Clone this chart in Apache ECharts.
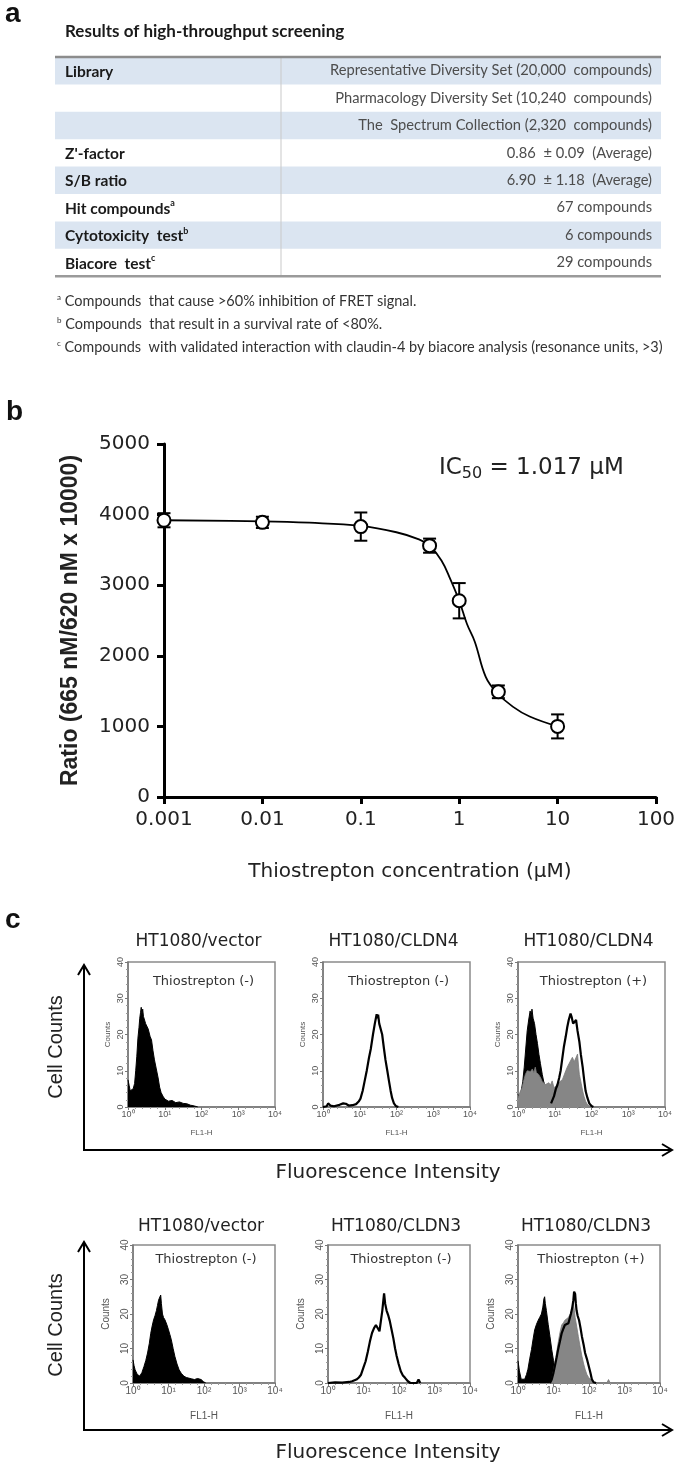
<!DOCTYPE html>
<html><head><meta charset="utf-8">
<script src="https://cdn.jsdelivr.net/npm/echarts@6/dist/echarts.min.js"></script>
<style>html,body{margin:0;padding:0;background:#fff}#c{width:685px;height:1469px}</style>
</head><body><div id="c"></div>
<script>
// ---------- Panel a : table ----------
const tableTitle = 'Results of high-throughput screening';
const tableLabels = ['Library', '', '', "Z'-factor", 'S/B ratio', 'Hit compounds', 'Cytotoxicity  test', 'Biacore  test'];
const tableLabelSup = ['', '', '', '', '', 'a', 'b', 'c'];
const tableValues = [
  'Representative Diversity Set (20,000  compounds)',
  'Pharmacology Diversity Set (10,240  compounds)',
  'The  Spectrum Collection (2,320  compounds)',
  '0.86  \u00b1 0.09  (Average)',
  '6.90  \u00b1 1.18  (Average)',
  '67 compounds',
  '6 compounds',
  '29 compounds'
];
const footnoteMarks = ['a', 'b', 'c'];
const footnotes = [
  'Compounds  that cause >60% inhibition of FRET signal.',
  'Compounds  that result in a survival rate of <80%.',
  'Compounds  with validated interaction with claudin-4 by biacore analysis (resonance units, >3)'
];

// ---------- Panel b : dose response ----------
const concentrations = [0.001, 0.01, 0.1, 0.5, 1, 2.5, 10];
const ratioMeans = [3920, 3890, 3830, 3560, 2780, 1490, 1000];
const ratioErrors = [100, 80, 200, 100, 250, 90, 170];
const fitConc = [0.001, 0.01, 0.03, 0.1, 0.23, 0.39, 0.5, 0.66, 0.81, 1.0, 1.2, 1.44, 1.86, 2.4, 3.5, 5.2, 10];
const fitRatio = [3920, 3905, 3885, 3840, 3750, 3650, 3560, 3350, 3090, 2780, 2450, 2200, 1700, 1480, 1280, 1140, 1000];
const xTickLabels = ['0.001', '0.01', '0.1', '1', '10', '100'];
const ic50Parts = ['IC', '50', ' = 1.017 \u00b5M'];

// ---------- Panel c : flow cytometry ----------
const panelTitles = ['HT1080/vector', 'HT1080/CLDN4', 'HT1080/CLDN4', 'HT1080/vector', 'HT1080/CLDN3', 'HT1080/CLDN3'];
const treatLabels = ['Thiostrepton (-)', 'Thiostrepton (-)', 'Thiostrepton (+)', 'Thiostrepton (-)', 'Thiostrepton (-)', 'Thiostrepton (+)'];
const flTickLabels = ['10\u2070', '10\u00b9', '10\u00b2', '10\u00b3', '10\u2074'];
const countTickLabels = ['0', '10', '20', '30', '40'];
// [log10 FL1-H, counts]
const h1Black = [[0,7.5],[0.03,6],[0.06,4.5],[0.1,4],[0.14,5],[0.18,6.5],[0.21,10],[0.24,14],[0.27,19],[0.3,22],[0.32,24.5],[0.34,26],[0.36,27.5],[0.38,25.5],[0.4,27],[0.42,25],[0.45,24.5],[0.48,23],[0.51,23.5],[0.55,21.5],[0.6,19.5],[0.64,18.5],[0.68,15.5],[0.72,13],[0.77,10.5],[0.82,8],[0.86,5.5],[0.9,4],[0.95,3],[1.0,2.2],[1.05,2.4],[1.1,1.6],[1.2,1.8],[1.3,1.2],[1.4,1.4],[1.5,1],[1.6,0.9],[1.7,0.5],[1.8,0.3],[1.9,0]];
const h2Open = [[0,0],[0.1,0.2],[0.14,1],[0.2,0.4],[0.3,0.2],[0.45,0.6],[0.55,1],[0.62,0.9],[0.7,0.4],[0.8,0.5],[0.9,0.8],[0.97,1.5],[1.02,2.3],[1.08,4.5],[1.13,7],[1.19,10],[1.25,13.5],[1.3,16],[1.36,20],[1.41,23],[1.46,25.6],[1.48,24.5],[1.5,25.5],[1.53,23],[1.57,22.5],[1.61,20],[1.66,16],[1.7,13],[1.75,10],[1.79,7.5],[1.84,4.5],[1.88,2.5],[1.93,1],[1.98,0.3],[2.05,0]];
const h3Black = [[0,3.5],[0.04,2.5],[0.08,4],[0.13,7],[0.17,11],[0.21,16],[0.25,21],[0.29,24],[0.33,26.5],[0.36,25],[0.38,27],[0.41,24.5],[0.45,23],[0.49,20],[0.53,17.5],[0.57,14.5],[0.61,12],[0.66,9],[0.7,7],[0.75,5.5],[0.8,4.4],[0.86,3.5],[0.92,2.5],[1.0,1.5],[1.1,1],[1.3,0.5],[1.5,0.3],[1.7,0]];
const h3Gray = [[0,2.5],[0.05,4],[0.11,5.3],[0.16,7.5],[0.2,9],[0.25,10],[0.29,10.4],[0.34,9.8],[0.39,10.5],[0.43,9.5],[0.47,11],[0.5,9.5],[0.56,9],[0.62,8],[0.66,7],[0.71,6.5],[0.75,6.2],[0.8,6.5],[0.84,6.7],[0.88,6],[0.93,7.2],[0.98,5.3],[1.03,5.8],[1.07,6.2],[1.12,6.8],[1.16,7],[1.21,7.6],[1.25,8],[1.3,10],[1.34,11],[1.39,12],[1.43,12.3],[1.48,13.7],[1.53,12.5],[1.58,12.7],[1.62,14.6],[1.65,11],[1.67,9],[1.72,6.5],[1.76,4.4],[1.8,2.8],[1.84,1.6],[1.88,0.8],[1.94,0.3],[2.0,0]];
const h3Open = [[0.9,1],[0.98,3],[1.03,5],[1.07,6],[1.12,8],[1.16,10],[1.2,13],[1.25,16.7],[1.3,19.5],[1.34,22],[1.38,24],[1.43,25.8],[1.46,24.8],[1.5,23],[1.53,23.5],[1.58,24],[1.62,21],[1.67,18],[1.71,14.5],[1.76,11],[1.8,7.5],[1.84,4.4],[1.89,2.5],[1.94,1],[2.0,0.3],[2.05,0]];
const h4Black = [[0,6.7],[0.03,5],[0.06,3.8],[0.12,2.5],[0.19,2],[0.25,3],[0.31,4.8],[0.36,6.5],[0.41,8.7],[0.46,11.5],[0.5,14.4],[0.54,16.5],[0.58,18.3],[0.62,19.5],[0.66,21],[0.69,22.5],[0.72,24],[0.75,23.5],[0.78,25.5],[0.8,23],[0.83,20],[0.86,19],[0.9,18.3],[0.95,17],[1.0,15.4],[1.04,14],[1.08,12.5],[1.13,10],[1.18,7.7],[1.24,5.5],[1.3,3.8],[1.36,2.8],[1.43,2],[1.5,1.6],[1.55,1.4],[1.65,1.2],[1.73,1],[1.82,1.3],[1.92,1],[1.98,0.4],[2.05,0]];
const h5Open = [[0,0],[0.2,0.2],[0.4,0.1],[0.6,0.3],[0.68,0.5],[0.8,1],[0.87,1.6],[0.93,2.4],[1.0,4.5],[1.06,6.3],[1.12,9],[1.18,12],[1.24,14.5],[1.3,16],[1.35,16.8],[1.4,16.6],[1.45,15],[1.49,18],[1.53,21],[1.56,24],[1.58,26],[1.61,23],[1.65,21],[1.7,19.5],[1.74,18],[1.79,15.5],[1.84,13],[1.89,10],[1.93,8],[1.99,5.5],[2.05,3.4],[2.11,2.2],[2.17,1.5],[2.25,0.5],[2.32,0],[2.5,0],[2.55,1],[2.6,0]];
const h6Black = [[0,6.4],[0.04,3.5],[0.09,1.1],[0.19,1.1],[0.24,2.5],[0.28,4],[0.33,7],[0.38,9.7],[0.43,13],[0.47,15.4],[0.52,17],[0.57,18.2],[0.61,19],[0.66,20],[0.7,22],[0.73,24.4],[0.75,25],[0.77,23],[0.8,21],[0.85,17],[0.9,13.5],[0.95,9.7],[1.0,6.5],[1.04,4],[1.09,3],[1.13,2],[1.2,1.1],[1.3,0.5],[1.4,0]];
const h6Gray = [[0.9,0],[0.95,1],[1.0,3.5],[1.04,5.9],[1.09,9],[1.13,11.6],[1.18,14.5],[1.23,16.8],[1.28,17.5],[1.32,18.2],[1.37,18.6],[1.42,19],[1.47,20],[1.51,21],[1.56,23],[1.59,21],[1.61,19],[1.66,16],[1.7,13.5],[1.75,10.5],[1.8,7.8],[1.85,5.5],[1.89,4],[1.94,2.5],[1.99,1.6],[2.08,0.7],[2.17,0],[2.5,0],[2.55,1],[2.6,0]];
const h6Open = [[0.9,0],[0.95,1],[1.0,3],[1.04,5],[1.09,7.5],[1.13,9.7],[1.18,12],[1.23,14.4],[1.28,15.8],[1.32,16.8],[1.37,17],[1.42,17.3],[1.45,18.5],[1.49,20],[1.53,22],[1.56,24],[1.58,26.5],[1.61,25.8],[1.63,23],[1.65,21],[1.68,19.5],[1.72,18.2],[1.76,16],[1.8,13.5],[1.85,11],[1.89,8.7],[1.94,7],[1.99,5],[2.04,3],[2.08,1.1],[2.13,0.2],[2.2,0]];

// ---------- layout ----------
const SANS = 'Liberation Sans, Arial, sans-serif';
const WIDE = 'DejaVu Sans, sans-serif';
const TAB = 'Lato, sans-serif';
const table = {left: 55, right: 661, divider: 281, top: 57, rowH: 27.4, textLeft: 65, textRight: 652};
const plotB = {left: 164, top: 444, width: 492, height: 353};
const histBoxes = [
  {left: 128, top: 962, width: 147, height: 145, row: 0},
  {left: 323, top: 962, width: 147, height: 145, row: 0},
  {left: 518, top: 962, width: 147, height: 145, row: 0},
  {left: 133, top: 1245, width: 142, height: 138, row: 1},
  {left: 328, top: 1245, width: 142, height: 138, row: 1},
  {left: 518, top: 1245, width: 142, height: 138, row: 1}
];
const rowStyle = [
  {title: 942, treat: 982, lab: 9, name: 8, xGap: 22, yGap: 16, arrowTop: 965, arrowY: 1150, cellY: 1047, fluoY: 1173},
  {title: 1227, treat: 1260, lab: 10, name: 10, xGap: 28, yGap: 22, arrowTop: 1242, arrowY: 1430, cellY: 1325, fluoY: 1453}
];
const histSeriesDefs = [
  {box: 0, data: h1Black, kind: 'black'},
  {box: 1, data: h2Open, kind: 'open'},
  {box: 2, data: h3Black, kind: 'black'}, {box: 2, data: h3Gray, kind: 'gray'}, {box: 2, data: h3Open, kind: 'open'},
  {box: 3, data: h4Black, kind: 'black'},
  {box: 4, data: h5Open, kind: 'open'},
  {box: 5, data: h6Black, kind: 'black'}, {box: 5, data: h6Gray, kind: 'gray'}, {box: 5, data: h6Open, kind: 'open'}
];

function txt(x, y, text, opts) {
  const o = opts || {};
  return {
    type: 'text', x: x, y: y, rotation: o.rotation || 0, z: 100,
    style: {
      text: text, fill: o.fill || '#111',
      font: (o.weight || 'normal') + ' ' + (o.size || 14) + 'px ' + (o.family || SANS),
      textAlign: o.align || 'left', align: o.align || 'left',
      textVerticalAlign: 'middle', verticalAlign: 'middle',
      rich: o.rich
    }
  };
}

const graphics = [];
// panel letters
graphics.push(txt(5, 14, 'a', {size: 28, weight: 'bold'}));
graphics.push(txt(6, 412, 'b', {size: 28, weight: 'bold'}));
graphics.push(txt(5, 920, 'c', {size: 28, weight: 'bold'}));

// table
graphics.push(txt(table.textLeft, 32, tableTitle, {size: 17, weight: 'bold', family: TAB, fill: '#1a1a1a'}));
tableLabels.forEach(function (lab, i) {
  const y0 = table.top + i * table.rowH;
  if (i % 2 === 0) {
    graphics.push({type: 'rect', shape: {x: table.left, y: y0, width: table.right - table.left, height: table.rowH}, style: {fill: '#dbe5f1'}, z: 1});
  }
  const yc = y0 + table.rowH / 2;
  if (lab) {
    graphics.push(txt(table.textLeft, yc, '{l|' + lab + '}' + (tableLabelSup[i] ? '{s|' + tableLabelSup[i] + '}' : ''), {
      family: TAB, size: 15.5, weight: 'bold',
      rich: {l: {font: 'bold 15.5px ' + TAB, fill: '#1a1a1a', lineHeight: 18, verticalAlign: 'bottom'},
             s: {font: 'bold 9px ' + TAB, fill: '#1a1a1a', lineHeight: 9, verticalAlign: 'top'}}
    }));
  }
  graphics.push(txt(table.textRight, yc, tableValues[i], {family: TAB, size: 14.7, fill: '#4d4d4d', align: 'right'}));
});
const tableBottom = table.top + tableLabels.length * table.rowH;
graphics.push({type: 'line', shape: {x1: table.divider, y1: table.top, x2: table.divider, y2: tableBottom}, style: {stroke: '#c9c9c9', lineWidth: 1}, z: 2});
graphics.push({type: 'line', shape: {x1: table.left, y1: table.top, x2: table.right, y2: table.top}, style: {stroke: '#8c8c8c', lineWidth: 2.5}, z: 3});
graphics.push({type: 'line', shape: {x1: table.left, y1: tableBottom, x2: table.right, y2: tableBottom}, style: {stroke: '#9a9a9a', lineWidth: 2.5}, z: 3});
footnotes.forEach(function (f, i) {
  graphics.push(txt(57, 301 + i * 23, '{s|' + footnoteMarks[i] + '} {t|' + f + '}', {
    family: TAB, size: 14.5,
    rich: {t: {font: '14.5px ' + TAB, fill: '#333', lineHeight: 16, verticalAlign: 'bottom'},
           s: {font: '8px ' + TAB, fill: '#333', lineHeight: 8, verticalAlign: 'top'}}
  }));
});

// panel b annotation (IC50 with subscript)
graphics.push(txt(439, 468, '{a|' + ic50Parts[0] + '}{s|' + ic50Parts[1] + '}{a|' + ic50Parts[2] + '}', {
  size: 23, family: WIDE, fill: '#222',
  rich: {a: {font: '23px ' + WIDE, fill: '#222', lineHeight: 28, verticalAlign: 'middle'},
         s: {font: '16px ' + WIDE, fill: '#222', lineHeight: 15, verticalAlign: 'bottom'}}
}));

// panel c texts and arrows
histBoxes.forEach(function (b, i) {
  const rs = rowStyle[b.row];
  const cx = b.left + b.width / 2;
  graphics.push(txt(cx - 3, rs.title, panelTitles[i], {size: 17, family: WIDE, fill: '#222', align: 'center'}));
  graphics.push(txt(cx + 2, rs.treat, treatLabels[i], {size: 13, family: WIDE, fill: '#333', align: 'center'}));
});
rowStyle.forEach(function (rs) {
  const ax = 84, right = 672;
  graphics.push({type: 'polyline', shape: {points: [[ax, rs.arrowTop + 1], [ax, rs.arrowY], [right - 1, rs.arrowY]]}, style: {stroke: '#000', lineWidth: 2, fill: null}, z: 50});
  graphics.push({type: 'polyline', shape: {points: [[ax - 6, rs.arrowTop + 10], [ax, rs.arrowTop], [ax + 6, rs.arrowTop + 10]]}, style: {stroke: '#000', lineWidth: 2, fill: null}, z: 50});
  graphics.push({type: 'polyline', shape: {points: [[right - 10, rs.arrowY - 6], [right, rs.arrowY], [right - 10, rs.arrowY + 6]]}, style: {stroke: '#000', lineWidth: 2, fill: null}, z: 50});
  graphics.push(txt(56, rs.cellY, 'Cell Counts', {size: 20, fill: '#222', align: 'center', rotation: Math.PI / 2}));
  graphics.push(txt(388, rs.fluoY, 'Fluorescence Intensity', {size: 20, family: WIDE, fill: '#222', align: 'center'}));
});

// ---------- option ----------
const grids = [{left: plotB.left, top: plotB.top, width: plotB.width, height: plotB.height, containLabel: false}];
const xAxes = [{
  type: 'log', logBase: 10, min: 0.001, max: 100, gridIndex: 0,
  axisLine: {show: true, lineStyle: {color: '#000', width: 3}},
  axisTick: {show: true, length: 7, lineStyle: {color: '#000', width: 3}},
  minorTick: {show: false},
  splitLine: {show: false},
  axisLabel: {fontSize: 20, fontFamily: WIDE, color: '#222', margin: 13,
    formatter: function (v) { return xTickLabels[Math.round(Math.log10(v)) + 3]; }},
  name: 'Thiostrepton concentration (\u00b5M)', nameLocation: 'middle', nameGap: 65,
  nameTextStyle: {fontSize: 20, fontFamily: WIDE, color: '#222'}
}];
const yAxes = [{
  type: 'value', min: 0, max: 5000, interval: 1000, gridIndex: 0,
  axisLine: {show: true, lineStyle: {color: '#000', width: 3}},
  axisTick: {show: true, length: 7, lineStyle: {color: '#000', width: 3}},
  splitLine: {show: false},
  axisLabel: {fontSize: 20, fontFamily: WIDE, color: '#222', margin: 14, formatter: function (v) { return String(v); }},
  name: 'Ratio (665 nM/620 nM x 10000)', nameLocation: 'middle', nameGap: 82, nameRotate: 90,
  nameMoveOverlap: false,
  nameTextStyle: {fontSize: 23, fontWeight: 'bold', fontFamily: SANS, color: '#222'}
}];
histBoxes.forEach(function (b, i) {
  const rs = rowStyle[b.row];
  grids.push({left: b.left, top: b.top, width: b.width, height: b.height, show: true, borderColor: '#8a8a8a', borderWidth: 1.5, backgroundColor: 'transparent'});
  xAxes.push({
    type: 'value', min: 0, max: 4, interval: 1, gridIndex: i + 1,
    axisLine: {show: true, onZero: false, lineStyle: {color: '#777', width: 1.5}},
    axisTick: {show: true, length: 3, lineStyle: {color: '#777'}},
    minorTick: {show: true, splitNumber: 5, length: 2, lineStyle: {color: '#999'}},
    splitLine: {show: false},
    axisLabel: {fontSize: rs.lab, fontFamily: SANS, color: '#555', margin: 3,
      formatter: function (v) { return flTickLabels[Math.round(v)]; }},
    name: 'FL1-H', nameLocation: 'middle', nameGap: rs.xGap,
    nameTextStyle: {fontSize: rs.name, fontFamily: SANS, color: '#555'}
  });
  yAxes.push({
    type: 'value', min: 0, max: 40, interval: 10, gridIndex: i + 1,
    axisLine: {show: true, lineStyle: {color: '#777', width: 1.5}},
    axisTick: {show: true, length: 3, lineStyle: {color: '#777'}},
    minorTick: {show: true, splitNumber: 5, length: 2, lineStyle: {color: '#999'}},
    splitLine: {show: false},
    axisLabel: {fontSize: rs.lab, fontFamily: SANS, color: '#555', margin: 3, rotate: 90,
      formatter: function (v) { return countTickLabels[Math.round(v / 10)]; }},
    name: 'Counts', nameLocation: 'middle', nameGap: rs.yGap, nameRotate: 90,
    nameTextStyle: {fontSize: rs.name, fontFamily: SANS, color: '#555'}
  });
});

const series = [
  {
    type: 'line', xAxisIndex: 0, yAxisIndex: 0, smooth: 0.4, symbol: 'none', clip: false, z: 2,
    lineStyle: {color: '#000', width: 1.8},
    data: fitConc.map(function (c, i) { return [c, fitRatio[i]]; })
  },
  {
    type: 'custom', xAxisIndex: 0, yAxisIndex: 0, clip: false, z: 3,
    data: concentrations.map(function (c, i) { return [c, ratioMeans[i] - ratioErrors[i], ratioMeans[i] + ratioErrors[i]]; }),
    encode: {x: 0, y: [1, 2]},
    renderItem: function (params, api) {
      const x = api.value(0);
      const lo = api.coord([x, api.value(1)]);
      const hi = api.coord([x, api.value(2)]);
      const w = 6.5;
      const st = {stroke: '#000', lineWidth: 2};
      return {type: 'group', children: [
        {type: 'line', shape: {x1: lo[0], y1: lo[1], x2: hi[0], y2: hi[1]}, style: st},
        {type: 'line', shape: {x1: lo[0] - w, y1: lo[1], x2: lo[0] + w, y2: lo[1]}, style: st},
        {type: 'line', shape: {x1: hi[0] - w, y1: hi[1], x2: hi[0] + w, y2: hi[1]}, style: st}
      ]};
    }
  },
  {
    type: 'scatter', xAxisIndex: 0, yAxisIndex: 0, clip: false, z: 4,
    symbol: 'circle', symbolSize: 13,
    itemStyle: {color: '#fff', borderColor: '#000', borderWidth: 2, opacity: 1},
    data: concentrations.map(function (c, i) { return [c, ratioMeans[i]]; })
  }
];
histSeriesDefs.forEach(function (d, k) {
  const s = {
    type: 'line', xAxisIndex: d.box + 1, yAxisIndex: d.box + 1, symbol: 'none', showSymbol: false,
    smooth: false, clip: true, data: d.data, z: 5 + k
  };
  if (d.kind === 'black') {
    s.lineStyle = {color: '#000', width: 1};
    s.areaStyle = {color: '#000', opacity: 1};
  } else if (d.kind === 'gray') {
    s.lineStyle = {color: '#7a7a7a', width: 0.8};
    s.areaStyle = {color: '#868686', opacity: 1};
  } else {
    s.lineStyle = {color: '#000', width: 2.2};
  }
  series.push(s);
});

const chart = echarts.init(document.getElementById('c'), null, {renderer: 'canvas', width: 685, height: 1469});
chart.setOption({
  animation: false,
  backgroundColor: '#fff',
  grid: grids,
  xAxis: xAxes,
  yAxis: yAxes,
  series: series,
  graphic: {elements: graphics}
});
</script>
</body></html>
